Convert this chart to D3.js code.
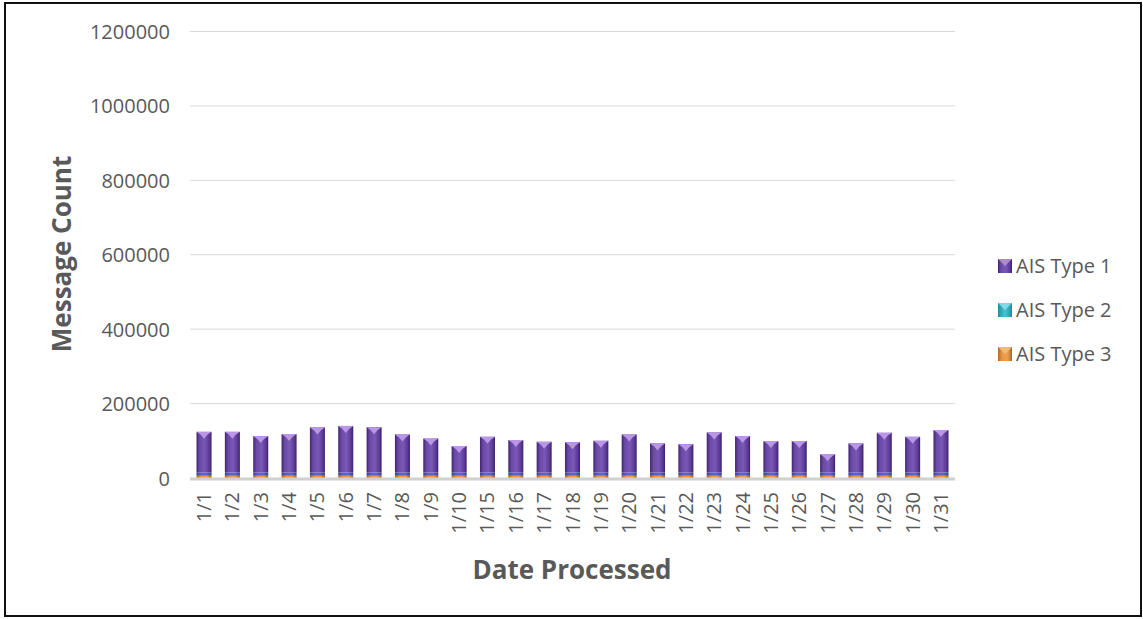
<!DOCTYPE html>
<html>
<head>
<meta charset="UTF-8">
<script src="https://d3js.org/d3.v7.min.js"></script>
<style>
body {margin:0; background:#fff;}
svg text {font-family:"Open Sans", sans-serif; fill:#595959;}
.tick text {font-size:20px;}
.title {font-size:26px; font-weight:bold;}
.legend text {font-size:20px;}
</style>
</head>
<body>
<svg id="chart" width="1143" height="619"></svg>
<script>
var dates = ["1/1","1/2","1/3","1/4","1/5","1/6","1/7","1/8","1/9","1/10",
  "1/15","1/16","1/17","1/18","1/19","1/20","1/21","1/22","1/23","1/24",
  "1/25","1/26","1/27","1/28","1/29","1/30","1/31"];
var type1 = [109000,109000,97600,103000,121000,125000,121700,102000,91000,71000,
  95700,87000,82300,81000,85000,102000,78000,76000,107500,97600,
  84200,84200,48500,78000,106500,95700,113700];
var type2 = [9000,9000,9000,9000,9000,9000,9000,9000,9000,9000,
  9000,9000,9000,9000,9000,9000,9000,9000,9000,9000,
  9000,9000,9000,9000,9000,9000,9000];
var type3 = [6000,6000,6000,6000,6000,6000,6000,6000,6000,6000,
  6000,6000,6000,6000,6000,6000,6000,6000,6000,6000,
  6000,6000,6000,6000,6000,6000,6000];
var seriesNames = ["AIS Type 1","AIS Type 2","AIS Type 3"];
var yTicks = [0,200000,400000,600000,800000,1000000,1200000];

var svg = d3.select("#chart");

// outer frame
svg.append("rect").attr("x",5).attr("y",3).attr("width",1136).attr("height",613)
  .attr("fill","none").attr("stroke","#111").attr("stroke-width",2);

var x = d3.scaleBand().domain(dates).range([190,955]).paddingInner(0.47).paddingOuter(0.23);
var y = d3.scaleLinear().domain([0,1200000]).range([478,31.5]);

var defs = svg.append("defs");
function grad(id, stops) {
  var g = defs.append("linearGradient").attr("id",id).attr("x1","0").attr("x2","1").attr("y1","0").attr("y2","0");
  stops.forEach(function(s){ g.append("stop").attr("offset",s[0]).attr("stop-color",s[1]); });
}
grad("g1", [[0,"#3f2470"],[0.2,"#6a48a6"],[0.55,"#7a58b6"],[0.85,"#5b3a95"],[1,"#3a2068"]]);
grad("g2", [[0,"#3a3f9a"],[0.3,"#5664c4"],[0.7,"#5a66c8"],[1,"#363c92"]]);
grad("g3", [[0,"#b8652a"],[0.3,"#e89a48"],[0.7,"#eba04e"],[1,"#b0602a"]]);
grad("gl2", [[0,"#1f8ea0"],[0.5,"#4cc3d3"],[1,"#1f8ea0"]]);

// gridlines
svg.append("g").selectAll("line").data(yTicks.slice(1)).join("line")
  .attr("x1",190).attr("x2",955).attr("y1",function(d){return y(d);}).attr("y2",function(d){return y(d);})
  .attr("stroke","#d9d9d9").attr("stroke-width",1);

// y axis
var yAxis = svg.append("g").attr("transform","translate(176,0)")
  .call(d3.axisLeft(y).tickValues(yTicks).tickSize(0).tickPadding(0).tickFormat(d3.format("d")));
yAxis.select(".domain").remove();
yAxis.selectAll(".tick text").attr("dy","0.35em").attr("x",-6);

// stacked bars
var stackData = dates.map(function(d,i){ return {date:d, t3:type3[i], t2:type2[i], t1:type1[i]}; });
var stack = d3.stack().keys(["t3","t2","t1"])(stackData);
var fills = {t3:"url(#g3)", t2:"url(#g2)", t1:"url(#g1)"};
svg.append("g").selectAll("g").data(stack).join("g")
  .attr("fill",function(s){return fills[s.key];})
  .selectAll("rect").data(function(s){return s;}).join("rect")
  .attr("x",function(d){return x(d.data.date);})
  .attr("width",x.bandwidth())
  .attr("y",function(d){return y(d[1]);})
  .attr("height",function(d){return y(d[0])-y(d[1]);});

// lighter bevel cap on top of each bar
var tops = stack[2];
svg.append("g").selectAll("path").data(tops).join("path")
  .attr("d",function(d){
    var x0 = x(d.data.date), w = x.bandwidth(), t = y(d[1]);
    return "M"+x0+","+t+"L"+(x0+w)+","+t+"L"+(x0+w*0.72)+","+(t+3)+"L"+(x0+w/2)+","+(t+7)+"L"+(x0+w*0.28)+","+(t+3)+"Z";
  })
  .attr("fill","#b996e6");

// baseline axis
svg.append("line").attr("x1",190).attr("x2",955).attr("y1",y(0)+1).attr("y2",y(0)+1)
  .attr("stroke","#d0d0d0").attr("stroke-width",3);

// x axis labels
var xAxis = svg.append("g").attr("transform","translate(0,"+(y(0)+14)+")")
  .call(d3.axisBottom(x).tickSize(0).tickPadding(0));
xAxis.select(".domain").remove();
xAxis.selectAll(".tick text").attr("transform","rotate(-90)")
  .attr("text-anchor","end").attr("x",0).attr("y",0).attr("dy","0.35em");

// axis titles
svg.append("text").attr("class","title").attr("x",572).attr("y",579)
  .attr("text-anchor","middle").text("Date Processed");
svg.append("text").attr("class","title").attr("transform","translate(71,254) rotate(-90)")
  .attr("text-anchor","middle").text("Message Count");

// legend
var legendFills = ["url(#g1)","url(#gl2)","url(#g3)"];
var legendTops = ["#b996e6","#8fe3ee","#f5c27a"];
var lg = svg.append("g").attr("class","legend").selectAll("g").data(seriesNames).join("g")
  .attr("transform",function(d,i){return "translate(998,"+(266+i*44)+")";});
lg.append("rect").attr("x",0).attr("y",-7).attr("width",14).attr("height",14)
  .attr("fill",function(d,i){return legendFills[i];});
lg.append("path").attr("d","M0,-7L14,-7L7,0Z").attr("fill",function(d,i){return legendTops[i];}).attr("opacity",0.8);
lg.append("text").attr("x",18).attr("dy","0.35em").text(function(d){return d;});
</script>
</body>
</html>
